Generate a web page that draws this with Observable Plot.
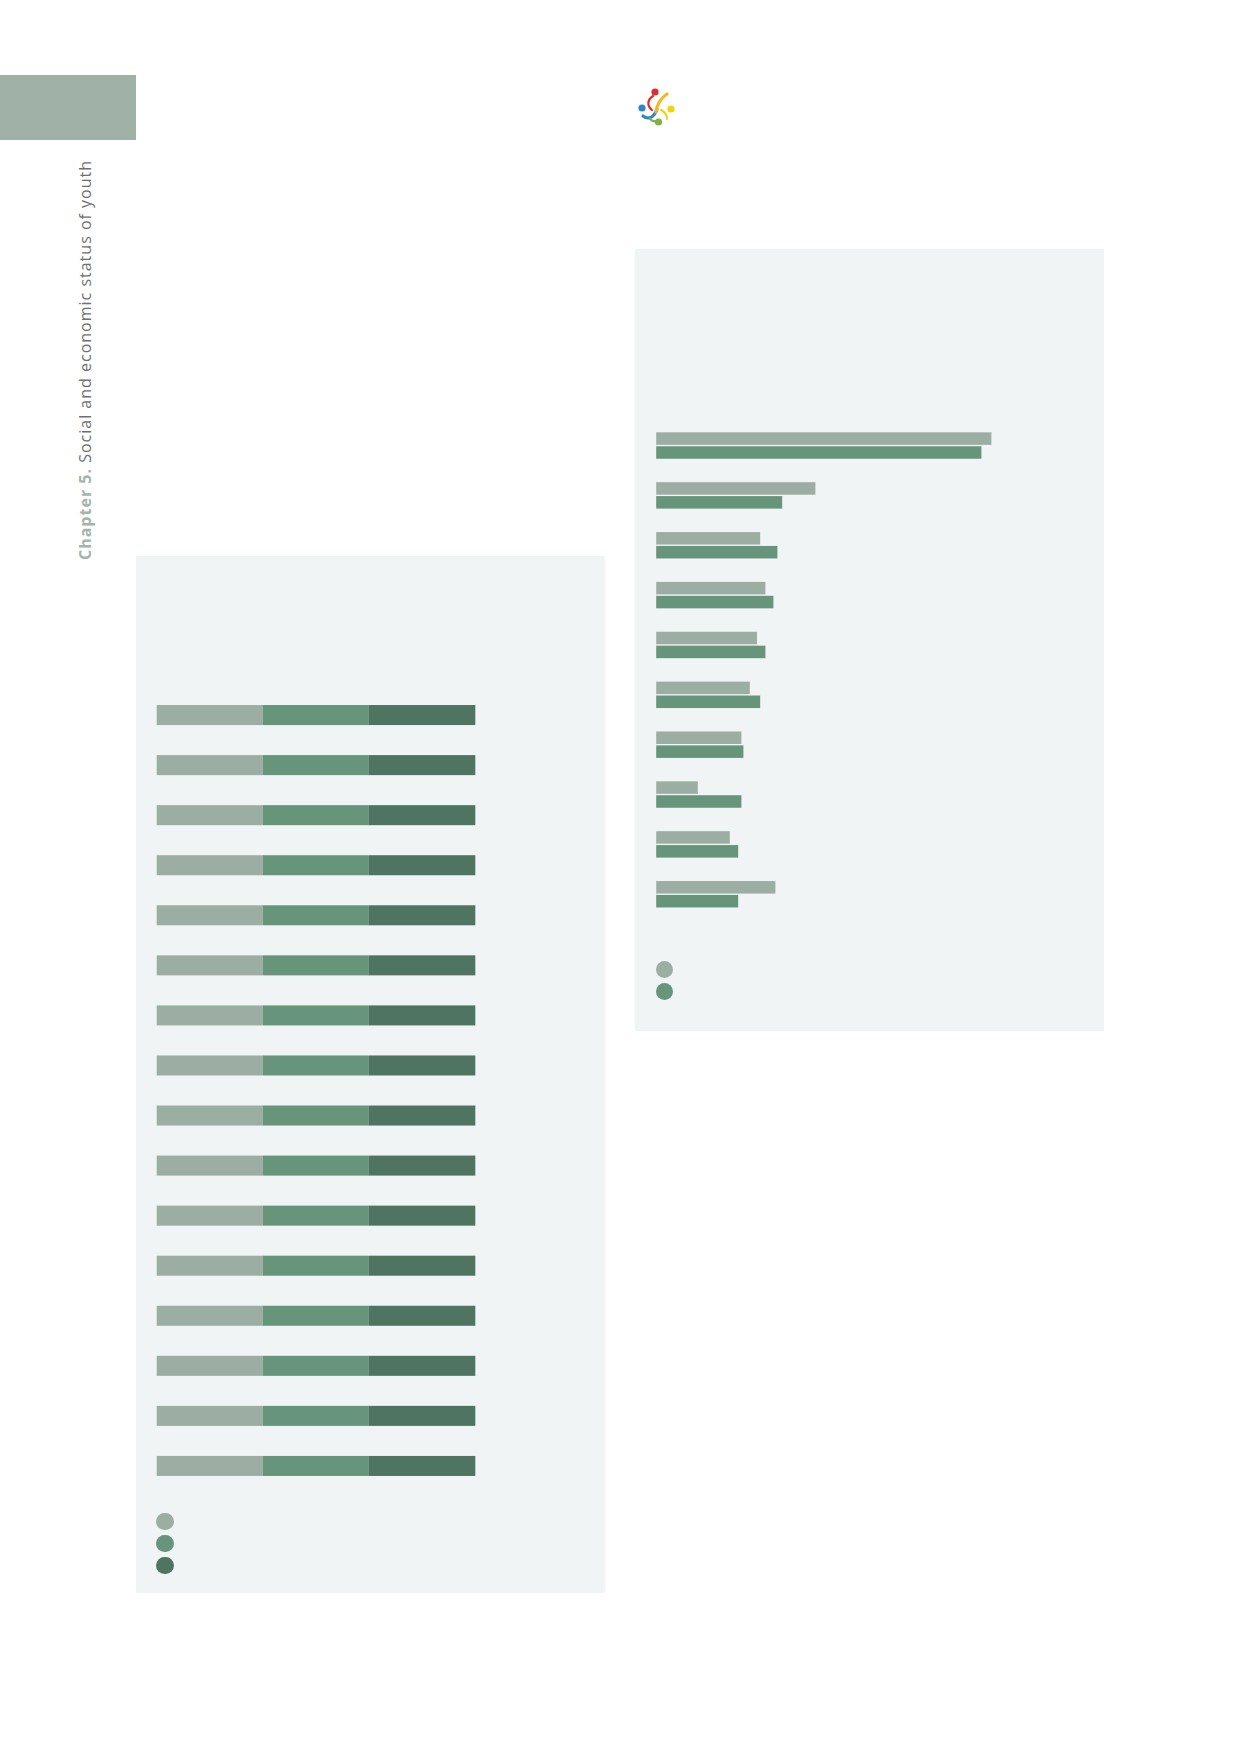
<!DOCTYPE html>
<html><head><meta charset="utf-8">
<script src="https://cdn.jsdelivr.net/npm/d3@7"></script>
<script src="https://cdn.jsdelivr.net/npm/@observablehq/plot@0.6"></script>
<style>
html,body{margin:0;padding:0;background:#fff;}
#page{position:relative;width:1239px;height:1752px;overflow:hidden;font-family:"Open Sans",sans-serif;background:#fff;}
.panel{position:absolute;background:#f0f4f5;}
.chart{position:absolute;}
.dot{position:absolute;border-radius:50%;}
</style></head><body><div id="page"></div>
<script>
// ---- Data ----
const leftCategories = ["Row 1","Row 2","Row 3","Row 4","Row 5","Row 6","Row 7","Row 8","Row 9","Row 10","Row 11","Row 12","Row 13","Row 14","Row 15","Row 16"];
const leftSeries = ["Group A","Group B","Group C"];
const leftValuesA = [33.3,33.3,33.3,33.3,33.3,33.3,33.3,33.3,33.3,33.3,33.3,33.3,33.3,33.3,33.3,33.3];
const leftValuesB = [33.3,33.3,33.3,33.3,33.3,33.3,33.3,33.3,33.3,33.3,33.3,33.3,33.3,33.3,33.3,33.3];
const leftValuesC = [33.4,33.4,33.4,33.4,33.4,33.4,33.4,33.4,33.4,33.4,33.4,33.4,33.4,33.4,33.4,33.4];
const leftColors = ["#9caea3","#66957c","#507462"];

const rightCategories = ["Item 1","Item 2","Item 3","Item 4","Item 5","Item 6","Item 7","Item 8","Item 9","Item 10"];
const rightSeries = ["Series 1","Series 2"];
const rightValues1 = [83.8, 39.8, 26.0, 27.3, 25.2, 23.4, 21.3, 10.4, 18.4, 29.8];
const rightValues2 = [81.3, 31.5, 30.3, 29.3, 27.3, 26.0, 21.8, 21.3, 20.5, 20.5];
const rightColors = ["#9caea3","#66957c"];

const titleBold = "Chapter 5.";
const titleRest = " Social and economic status of youth";

// ---- Page ----
const page = document.getElementById("page");
function el(tag, cls, css) { const e = document.createElement(tag); if (cls) e.className = cls; Object.assign(e.style, css || {}); page.appendChild(e); return e; }

// top-left tab
el("div", null, {position:"absolute", left:"0px", top:"75px", width:"136px", height:"65px", background:"#a0b2a7"});

// rotated chapter title + logo
const svgNS = "http://www.w3.org/2000/svg";
const deco = document.createElementNS(svgNS, "svg");
deco.setAttribute("width", 1239); deco.setAttribute("height", 700);
deco.style.position = "absolute"; deco.style.left = "0"; deco.style.top = "0";
deco.innerHTML = `
<text transform="translate(90.5,560) rotate(-90)" font-family="Open Sans" font-size="16" letter-spacing="1.0">
  <tspan font-weight="bold" fill="#a3b4aa">${titleBold}</tspan><tspan fill="#6e7070">${titleRest}</tspan>
</text>
<g transform="translate(630,75)" fill="none" stroke-linecap="round">
  <path d="M23,21 C17,25 17,31 22,35" stroke="#d9302c" stroke-width="2.2"/>
  <path d="M13,41 C18,45 24,43 27,34" stroke="#2e86c8" stroke-width="3.2"/>
  <path d="M37,19 C31,23 27,29 26,37" stroke="#f2b81c" stroke-width="3.2"/>
  <path d="M31,35 C35,37 37,40 37,44" stroke="#f5d10a" stroke-width="2"/>
  <path d="M20,44 C23,47 26,47 29,45" stroke="#7cb342" stroke-width="2.4"/>
  <circle cx="25" cy="17" r="3.6" fill="#d9302c"/>
  <circle cx="12" cy="33" r="3.6" fill="#2e86c8"/>
  <circle cx="41" cy="34" r="3.6" fill="#f5d10a"/>
  <circle cx="28.5" cy="47" r="3.6" fill="#7cb342"/>
</g>`;
page.appendChild(deco);

// ---- Left chart ----
el("div", "panel", {left:"136px", top:"556px", width:"469px", height:"1037px"});
const leftRows = leftCategories.flatMap((c, i) => [
  {category: c, series: leftSeries[0], value: leftValuesA[i]},
  {category: c, series: leftSeries[1], value: leftValuesB[i]},
  {category: c, series: leftSeries[2], value: leftValuesC[i]}
]);
const leftPlot = Plot.plot({
  width: 469, height: 1037,
  marginLeft: 20.7, marginRight: 129.7, marginTop: 119, marginBottom: 87,
  style: {background: "transparent", overflow: "visible"},
  x: {domain: [0, 100], axis: null},
  y: {domain: leftCategories, padding: 0.6, round: false, axis: null},
  color: {domain: leftSeries, range: leftColors},
  marks: [
    Plot.barX(leftRows, Plot.stackX({x: "value", y: "category", fill: "series", order: leftSeries}))
  ]
});
const lw = el("div", "chart", {left:"136px", top:"556px"});
lw.appendChild(leftPlot);
leftColors.forEach((c, i) => {
  el("div", "dot", {left: (165 - 8.7) + "px", top: (1521.7 + i * 22 - 8.7) + "px", width: "17.4px", height: "17.4px", background: c});
});

// ---- Right chart ----
el("div", "panel", {left:"634.5px", top:"249px", width:"469.5px", height:"782px"});
const rightRows1 = rightCategories.map((c, i) => ({category: c, series: rightSeries[0], value: rightValues1[i]}));
const rightRows2 = rightCategories.map((c, i) => ({category: c, series: rightSeries[1], value: rightValues2[i]}));
const rightPlot = Plot.plot({
  width: 469.5, height: 782,
  marginLeft: 21.2, marginRight: 48.3, marginTop: 159.9, marginBottom: 100.1,
  style: {background: "transparent", overflow: "visible"},
  x: {domain: [0, 100], axis: null},
  y: {domain: rightCategories, padding: 0.47, round: false, axis: null},
  color: {domain: rightSeries, range: rightColors},
  marks: [
    Plot.barX(rightRows1, {x: "value", y: "category", fill: "series", insetBottom: 13.9}),
    Plot.barX(rightRows2, {x: "value", y: "category", fill: "series", insetTop: 13.9})
  ]
});
const rw = el("div", "chart", {left:"634.5px", top:"249px"});
rw.appendChild(rightPlot);
rightColors.forEach((c, i) => {
  el("div", "dot", {left: (664 - 8.5) + "px", top: (969.3 + i * 22 - 8.5) + "px", width: "17px", height: "17px", background: c});
});
</script>
</body></html>
